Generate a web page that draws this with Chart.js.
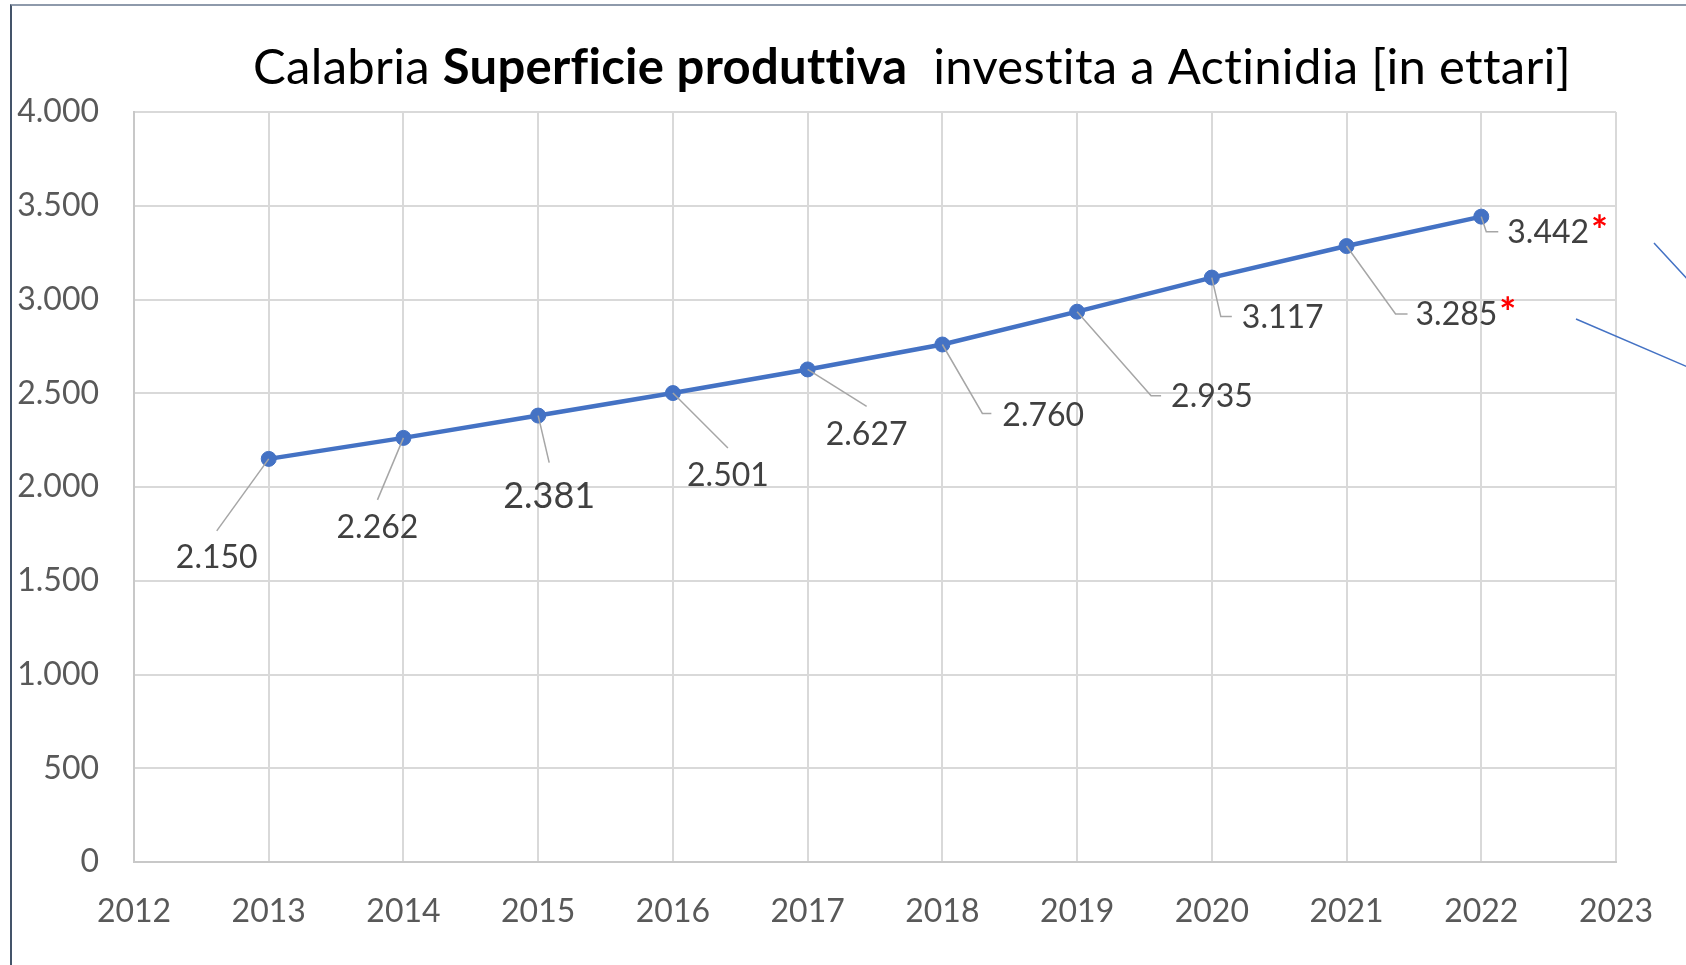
<!DOCTYPE html>
<html>
<head>
<meta charset="utf-8">
<script src="https://cdn.jsdelivr.net/npm/chart.js@4.4.1/dist/chart.umd.min.js"></script>
<style>
  html, body { margin: 0; padding: 0; background: #ffffff; }
  #wrap { position: relative; width: 1686px; height: 965px; overflow: hidden; }
  #frame { position: absolute; left: 10px; top: 4px; right: -5px; bottom: -5px;
           border-left: 2px solid #44546a; border-top: 2px solid #8e9aab; pointer-events: none; }
  canvas { position: absolute; left: 0; top: 0; }
</style>
</head>
<body>
<div id="wrap">
  <canvas id="c" width="1686" height="965"></canvas>
  <div id="frame"></div>
</div>
<script>
// ---- data ----
const years = [2013, 2014, 2015, 2016, 2017, 2018, 2019, 2020, 2021, 2022];
const values = [2150, 2262, 2381, 2501, 2627, 2760, 2935, 3117, 3285, 3442];
const marks = ['', '', '', '', '', '', '', '', '*', '*'];
const xMin = 2012, xMax = 2023;
const yMin = 0, yMax = 4000, yStep = 500;
const titleParts = [
  { text: 'Calabria ', bold: false },
  { text: 'Superficie produttiva', bold: true },
  { text: '  investita a Actinidia [in ettari]', bold: false }
];

// ---- label layout (offsets from point, px) ----
const labelLayout = [
  { lead: [[-52, 72]], tx: -52, ty: 99, align: 'center', size: 32 },
  { lead: [[-26, 62]], tx: -26, ty: 90, align: 'center', size: 32 },
  { lead: [[11, 47]], tx: 11, ty: 81, align: 'center', size: 36 },
  { lead: [[55, 55]], tx: 55, ty: 83, align: 'center', size: 32 },
  { lead: [[59, 37]], tx: 59, ty: 65, align: 'center', size: 32 },
  { lead: [[40, 69], [49, 69]], tx: 60, ty: 71, align: 'left', size: 32 },
  { lead: [[74, 84], [84, 84]], tx: 94, ty: 85, align: 'left', size: 32 },
  { lead: [[9, 39], [20, 39]], tx: 30, ty: 40, align: 'left', size: 32 },
  { lead: [[49, 68], [61, 68]], tx: 69, ty: 69, align: 'left', size: 32 },
  { lead: [[5, 15], [17, 15]], tx: 26, ty: 16, align: 'left', size: 32 }
];

const FONT = 'Lato, "Open Sans", "Noto Sans", sans-serif';

function fmtThousands(v) {
  return String(Math.round(v)).replace(/\B(?=(\d{3})+(?!\d))/g, '.');
}

const points = years.map((y, i) => ({ x: y, y: values[i] }));

const titlePlugin = {
  id: 'mixedTitle',
  afterDraw(chart) {
    const ctx = chart.ctx;
    const size = 49;
    ctx.save();
    ctx.textBaseline = 'middle';
    if ('letterSpacing' in ctx) ctx.letterSpacing = '0.3px';
    let total = 0;
    const widths = titleParts.map(p => {
      ctx.font = (p.bold ? 'bold ' : '') + size + 'px ' + FONT;
      const w = ctx.measureText(p.text).width;
      total += w;
      return w;
    });
    let x = 912 - total / 2;
    ctx.fillStyle = '#000000';
    titleParts.forEach((p, i) => {
      ctx.font = (p.bold ? 'bold ' : '') + size + 'px ' + FONT;
      ctx.textAlign = 'left';
      ctx.fillText(p.text, x, 68);
      x += widths[i];
    });
    ctx.restore();
  }
};

const labelPlugin = {
  id: 'leaderLabels',
  afterDatasetsDraw(chart) {
    const ctx = chart.ctx;
    const meta = chart.getDatasetMeta(0);
    ctx.save();
    meta.data.forEach((pt, i) => {
      const L = labelLayout[i];
      const px = pt.x, py = pt.y;
      ctx.beginPath();
      ctx.strokeStyle = '#a6a6a6';
      ctx.lineWidth = 1.5;
      ctx.moveTo(px, py);
      L.lead.forEach(o => ctx.lineTo(px + o[0], py + o[1]));
      ctx.stroke();
    });
    meta.data.forEach((pt, i) => {
      const L = labelLayout[i];
      const txt = fmtThousands(values[i]);
      ctx.font = L.size + 'px ' + FONT;
      ctx.textBaseline = 'middle';
      ctx.fillStyle = '#404040';
      const w = ctx.measureText(txt).width;
      let left = L.align === 'center' ? pt.x + L.tx - w / 2 : pt.x + L.tx;
      ctx.textAlign = 'left';
      ctx.fillText(txt, left, pt.y + L.ty);
      if (marks[i]) {
        ctx.font = 'bold ' + (L.size + 8) + 'px ' + FONT;
        ctx.fillStyle = '#ff0000';
        ctx.fillText(marks[i], left + w + 2, pt.y + L.ty - 1);
      }
    });
    ctx.restore();
  }
};

const sideLinesPlugin = {
  id: 'sideLines',
  afterDraw(chart) {
    const ctx = chart.ctx;
    ctx.save();
    ctx.strokeStyle = '#4472c4';
    ctx.lineWidth = 1.5;
    ctx.beginPath();
    ctx.moveTo(1654, 243); ctx.lineTo(1690, 282);
    ctx.moveTo(1576, 319); ctx.lineTo(1690, 368);
    ctx.stroke();
    ctx.restore();
  }
};

new Chart(document.getElementById('c'), {
  type: 'line',
  data: {
    datasets: [{
      data: points,
      borderColor: '#4472c4',
      backgroundColor: '#4472c4',
      borderWidth: 4.5,
      pointRadius: 7.5,
      pointHoverRadius: 7.5,
      pointBackgroundColor: '#4472c4',
      pointBorderColor: '#4472c4',
      pointBorderWidth: 1,
      tension: 0,
      clip: false
    }]
  },
  options: {
    responsive: false,
    animation: false,
    events: [],
    layout: { padding: { left: 0, right: 70, top: 112, bottom: 0 } },
    plugins: {
      legend: { display: false },
      title: { display: false },
      tooltip: { enabled: false }
    },
    scales: {
      x: {
        type: 'linear',
        min: xMin, max: xMax,
        afterFit(scale) { scale.height = 103; },
        ticks: {
          stepSize: 1,
          padding: 30,
          color: '#595959',
          font: { family: FONT, size: 32 },
          callback: v => String(v)
        },
        grid: { color: '#d9d9d9', lineWidth: 2, drawTicks: false },
        border: { color: '#c8c8c8', width: 2 }
      },
      y: {
        min: yMin, max: yMax,
        afterFit(scale) { scale.width = 134; },
        ticks: {
          stepSize: yStep,
          padding: 35,
          color: '#595959',
          font: { family: FONT, size: 32 },
          callback: v => fmtThousands(v)
        },
        grid: { color: '#d9d9d9', lineWidth: 2, drawTicks: false },
        border: { color: '#c8c8c8', width: 2 }
      }
    }
  },
  plugins: [labelPlugin, titlePlugin, sideLinesPlugin]
});
</script>
</body>
</html>
